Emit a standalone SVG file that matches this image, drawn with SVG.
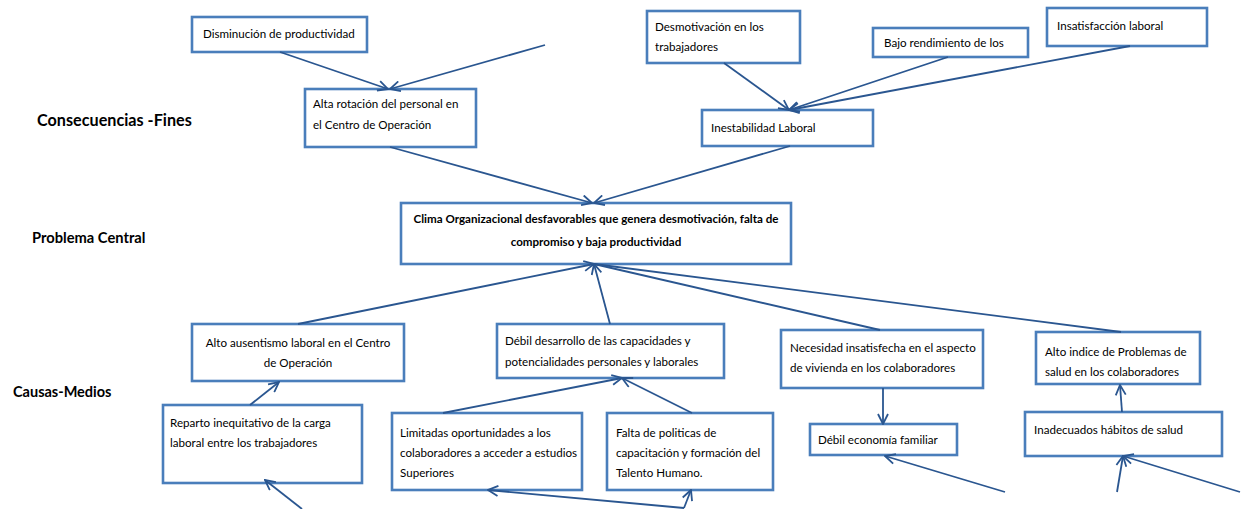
<svg xmlns="http://www.w3.org/2000/svg" width="1245" height="509" viewBox="0 0 1245 509">
<style>
.box{fill:#fff;stroke:#4A7EBB;stroke-width:2.6}
.t{font-family:Lato,"Open Sans",sans-serif;font-size:11.6px;fill:#000}
.tb{font-family:Lato,"Open Sans",sans-serif;font-size:11.6px;font-weight:bold;fill:#000}
.lbl{font-family:Lato,"Open Sans",sans-serif;font-weight:bold;fill:#000}
.c{fill:none;stroke:#2A5690;stroke-width:1.8}
</style>
<defs>
<marker id="a" viewBox="0 0 12 12" refX="11" refY="6" markerWidth="12" markerHeight="12" markerUnits="userSpaceOnUse" orient="auto">
<path d="M1,1 L11,6 L1,11" fill="none" stroke="#2A5690" stroke-width="1.8"/>
</marker>
</defs>
<rect width="1245" height="509" fill="#fff"/>
<g id="labels">
<text class="lbl" x="37" y="126" font-size="16.2">Consecuencias  -Fines</text>
<text class="lbl" x="32" y="243" font-size="14.7">Problema Central</text>
<text class="lbl" x="13" y="397" font-size="14.5">Causas-Medios</text>
</g>
<g id="n1"><rect class="box" x="192" y="17" width="175" height="35"/><text class="t" x="203" y="38">Disminución de productividad</text></g>
<g id="n2"><rect class="box" x="305" y="89" width="171" height="58"/><text class="t" x="313" y="108">Alta rotación del personal en</text><text class="t" x="313" y="129">el Centro de Operación</text></g>
<g id="n3"><rect class="box" x="647" y="11" width="153" height="52"/><text class="t" x="655" y="31">Desmotivación en los</text><text class="t" x="655" y="51">trabajadores</text></g>
<g id="n4"><rect class="box" x="873" y="28" width="155" height="29"/><text class="t" x="884" y="47">Bajo rendimiento de los</text></g>
<g id="n5"><rect class="box" x="1047" y="8" width="160" height="38"/><text class="t" x="1057" y="30">Insatisfacción laboral</text></g>
<g id="n6"><rect class="box" x="702" y="110" width="171" height="36"/><text class="t" x="711" y="132">Inestabilidad Laboral</text></g>
<g id="n7"><rect class="box" x="401" y="203" width="390" height="61"/><text class="tb" x="596" y="223" text-anchor="middle">Clima Organizacional desfavorables que genera desmotivación, falta de</text><text class="tb" x="596" y="246" text-anchor="middle">compromiso y baja productividad</text></g>
<g id="n8"><rect class="box" x="192" y="324" width="212" height="57"/><text class="t" x="298" y="347" text-anchor="middle">Alto ausentismo laboral en el Centro</text><text class="t" x="298" y="367" text-anchor="middle">de Operación</text></g>
<g id="n9"><rect class="box" x="497" y="324" width="227" height="54"/><text class="t" x="505" y="345">Débil  desarrollo de las capacidades y</text><text class="t" x="505" y="366">potencialidades personales y laborales</text></g>
<g id="n10"><rect class="box" x="781" y="330" width="202" height="58"/><text class="t" x="790" y="352">Necesidad insatisfecha en el aspecto</text><text class="t" x="790" y="372">de vivienda en los colaboradores</text></g>
<g id="n11"><rect class="box" x="1036" y="332" width="164" height="52"/><text class="t" x="1045" y="356">Alto indice de Problemas de</text><text class="t" x="1045" y="376">salud en los colaboradores</text></g>
<g id="n12"><rect class="box" x="163" y="405" width="199" height="78"/><text class="t" x="170" y="427">Reparto  inequitativo  de la carga</text><text class="t" x="170" y="447">laboral entre los trabajadores</text></g>
<g id="n13"><rect class="box" x="392" y="413" width="190" height="77"/><text class="t" x="400" y="437">Limitadas oportunidades  a los</text><text class="t" x="400" y="457">colaboradores  a acceder a estudios</text><text class="t" x="400" y="477">Superiores</text></g>
<g id="n14"><rect class="box" x="607" y="413" width="166" height="77"/><text class="t" x="616" y="437">Falta de politicas  de</text><text class="t" x="616" y="457">capacitación  y formación del</text><text class="t" x="616" y="477">Talento Humano.</text></g>
<g id="n15"><rect class="box" x="810" y="424" width="147" height="31"/><text class="t" x="818" y="444">Débil  economía familiar</text></g>
<g id="n16"><rect class="box" x="1025" y="412" width="197" height="44"/><text class="t" x="1034" y="434">Inadecuados hábitos de salud</text></g>
<g id="connectors">
<line class="c" x1="280" y1="52" x2="388" y2="89" marker-end="url(#a)"/>
<line class="c" x1="545" y1="45" x2="390" y2="89" marker-end="url(#a)"/>
<line class="c" x1="724" y1="63" x2="789" y2="110" marker-end="url(#a)"/>
<line class="c" x1="948" y1="57" x2="789" y2="110" stroke-width="3.5" marker-end="url(#a)"/>
<line class="c" x1="1130" y1="46" x2="789" y2="110" marker-end="url(#a)"/>
<line class="c" x1="390" y1="147" x2="592" y2="203" marker-end="url(#a)"/>
<line class="c" x1="790" y1="146" x2="594" y2="203" marker-end="url(#a)"/>
<line class="c" x1="298" y1="324" x2="594" y2="264" marker-end="url(#a)"/>
<line class="c" x1="610" y1="324" x2="594" y2="264" marker-end="url(#a)"/>
<line class="c" x1="880" y1="330" x2="594" y2="264"/>
<line class="c" x1="1121" y1="332" x2="594" y2="264"/>
<line class="c" x1="250" y1="405" x2="279" y2="382" marker-end="url(#a)"/>
<line class="c" x1="443" y1="413" x2="622" y2="378" marker-end="url(#a)"/>
<line class="c" x1="692" y1="413" x2="622" y2="378" marker-end="url(#a)"/>
<line class="c" x1="684" y1="508" x2="488" y2="490" marker-end="url(#a)"/>
<line class="c" x1="684" y1="508" x2="691" y2="490" marker-end="url(#a)"/>
<line class="c" x1="302" y1="509" x2="265" y2="480" marker-end="url(#a)"/>
<line class="c" x1="883" y1="388" x2="883" y2="424" marker-end="url(#a)"/>
<line class="c" x1="1005" y1="492" x2="885" y2="456" marker-end="url(#a)"/>
<line class="c" x1="1122" y1="412" x2="1120" y2="385" marker-end="url(#a)"/>
<line class="c" x1="1117" y1="492" x2="1123" y2="456" marker-end="url(#a)"/>
<line class="c" x1="1240" y1="492" x2="1123" y2="456" marker-end="url(#a)"/>
</g>
</svg>
